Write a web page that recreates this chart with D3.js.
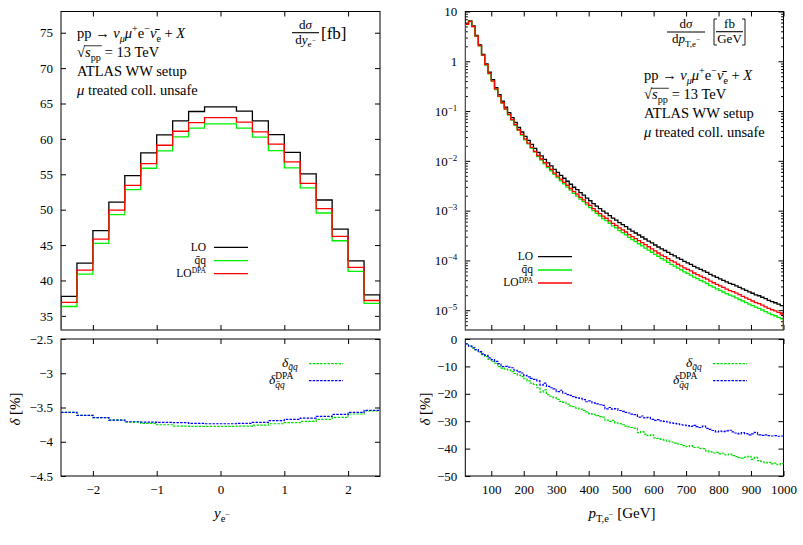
<!DOCTYPE html>
<html lang="en">
<head>
<meta charset="UTF-8">
<script src="https://d3js.org/d3.v7.min.js"></script>
<style>
  body { margin: 0; background: #fff; }
  text { font-family: "Liberation Serif", serif; fill: #000; white-space: pre; }
</style>
</head>
<body>
<div id="chart"></div>
<script>
// ---- data: rapidity of the electron (20 bins, -2.5 .. 2.5)
const yEdges = d3.range(-2.5, 2.5001, 0.25);
const yLO  = [37.74,42.45,47.03,51.08,54.81,58.02,60.57,62.55,63.87,64.53,64.53,63.92,62.55,60.61,58.11,55.05,51.37,47.26,42.78,37.97];
const yQQ  = [36.32,40.90,45.24,49.29,52.83,55.85,58.30,60.28,61.51,62.12,62.12,61.51,60.24,58.35,55.90,53.07,49.53,45.61,41.27,36.75];
const yDPA = [36.89,41.46,45.85,49.95,53.44,56.51,59.10,61.08,62.31,63.02,63.02,62.36,60.99,59.25,56.75,53.73,50.14,46.23,41.84,37.17];
const yDeltaQQ  = [-3.571,-3.615,-3.649,-3.683,-3.713,-3.732,-3.752,-3.771,-3.776,-3.776,-3.776,-3.771,-3.757,-3.737,-3.722,-3.703,-3.674,-3.644,-3.595,-3.551];
const yDeltaDPA = [-3.571,-3.615,-3.649,-3.683,-3.708,-3.713,-3.718,-3.722,-3.732,-3.737,-3.737,-3.732,-3.718,-3.693,-3.674,-3.654,-3.630,-3.600,-3.571,-3.541];

// ---- data: transverse momentum of the electron (98 bins of 10 GeV, 20 .. 1000)
const ptEdges = d3.range(20, 1000.1, 10);
const ptLO = [5.62,6.46,5.13,3.31,2.14,1.38,0.891,0.603,0.427,0.295,0.214,0.158,0.120,0.0933,0.0741,0.0589,0.0468,0.0380,0.0309,0.0257,
  0.0214,0.0178,0.0148,0.0126,0.0107,0.00912,0.00794,0.00676,0.00589,0.00513,0.00447,0.00389,0.00339,0.00295,0.00263,0.00229,0.00204,0.00178,0.00158,0.00138,
  0.00123,0.00110,0.000977,0.000891,0.000794,0.000708,0.000646,0.000575,0.000525,0.000479,0.000427,0.000389,0.000355,0.000324,0.000295,0.000269,0.000245,0.000224,0.000204,0.000186,
  0.000170,0.000158,0.000145,0.000132,0.000123,0.000112,0.000105,9.55e-5,8.91e-5,8.32e-5,7.59e-5,7.08e-5,6.61e-5,6.17e-5,5.75e-5,5.25e-5,4.90e-5,4.57e-5,4.27e-5,3.98e-5,
  3.72e-5,3.47e-5,3.31e-5,3.09e-5,2.88e-5,2.69e-5,2.51e-5,2.34e-5,2.19e-5,2.04e-5,1.95e-5,1.82e-5,1.70e-5,1.58e-5,1.48e-5,1.41e-5,1.32e-5,1.23e-5];
const ptQQ = [5.52,6.30,4.97,3.18,2.04,1.31,0.838,0.562,0.394,0.271,0.195,0.144,0.108,0.0832,0.0656,0.0518,0.0408,0.0330,0.0265,0.0219,
  0.0180,0.0149,0.0122,0.0103,0.00871,0.00735,0.00632,0.00533,0.00460,0.00398,0.00344,0.00297,0.00257,0.00222,0.00196,0.00170,0.00151,0.00130,0.00115,0.000998,
  0.000885,0.000785,0.000695,0.000631,0.000558,0.000495,0.000450,0.000398,0.000361,0.000327,0.000290,0.000262,0.000238,0.000216,0.000195,0.000177,0.000161,0.000146,0.000132,0.000120,
  0.000109,0.000101,9.14e-5,8.30e-5,7.71e-5,6.98e-5,6.49e-5,5.89e-5,5.47e-5,5.08e-5,4.61e-5,4.29e-5,3.98e-5,3.70e-5,3.44e-5,3.12e-5,2.90e-5,2.69e-5,2.50e-5,2.32e-5,
  2.16e-5,2.00e-5,1.91e-5,1.77e-5,1.64e-5,1.53e-5,1.42e-5,1.32e-5,1.23e-5,1.15e-5,1.09e-5,1.01e-5,9.40e-6,8.75e-6,8.13e-6,7.73e-6,7.18e-6,6.68e-6];
const ptDPA = [5.51,6.31,5.00,3.21,2.07,1.33,0.853,0.574,0.405,0.278,0.200,0.147,0.111,0.0857,0.0676,0.0533,0.0421,0.0340,0.0275,0.0227,
  0.0187,0.0155,0.0128,0.0109,0.00919,0.00776,0.00673,0.00569,0.00493,0.00428,0.00370,0.00321,0.00278,0.00241,0.00214,0.00185,0.00164,0.00143,0.00127,0.00110,
  0.000977,0.000869,0.000773,0.000703,0.000625,0.000556,0.000506,0.000450,0.000409,0.000372,0.000331,0.000301,0.000274,0.000249,0.000227,0.000207,0.000188,0.000171,0.000155,0.000141,
  0.000128,0.000119,0.000109,9.89e-5,9.20e-5,8.38e-5,7.80e-5,7.08e-5,6.59e-5,6.14e-5,5.58e-5,5.20e-5,4.84e-5,4.51e-5,4.20e-5,3.82e-5,3.56e-5,3.30e-5,3.07e-5,2.86e-5,
  2.66e-5,2.48e-5,2.36e-5,2.20e-5,2.05e-5,1.90e-5,1.77e-5,1.65e-5,1.53e-5,1.42e-5,1.36e-5,1.26e-5,1.17e-5,1.09e-5,1.02e-5,9.70e-6,9.04e-6,8.39e-6];
const ptDeltaQQ = [-1.8,-2.6,-3.3,-4.0,-4.8,-5.7,-6.4,-7.4,-8.2,-8.8,-10.1,-10.6,-11.0,-11.3,-11.9,-12.6,-13.2,-13.7,-14.5,-15.3,
  -16.1,-16.6,-17.8,-19.4,-18.6,-20.3,-20.9,-21.4,-22.0,-22.8,-23.1,-23.8,-24.4,-24.7,-25.2,-25.6,-26.1,-26.6,-27.2,-27.5,
  -28.0,-28.3,-28.5,-29.6,-30.1,-29.7,-30.6,-30.9,-31.3,-31.8,-32.1,-32.3,-32.5,-34.2,-33.8,-34.7,-35.3,-35.0,-36.1,-36.3,
  -36.6,-36.9,-37.3,-37.6,-38.0,-38.3,-38.5,-38.9,-39.3,-38.9,-39.6,-39.5,-39.9,-40.0,-40.8,-41.2,-41.6,-41.4,-41.9,-41.7,
  -42.3,-42.0,-42.6,-42.9,-43.3,-43.5,-43.1,-42.8,-43.9,-43.2,-44.4,-44.8,-45.2,-45.0,-45.6,-45.3,-45.9,-45.5];
const ptDeltaDPA = [-1.8,-2.6,-3.2,-3.9,-4.6,-5.4,-6.0,-6.9,-7.5,-8.2,-9.0,-10.1,-10.0,-10.3,-10.5,-11.4,-12.0,-12.4,-13.3,-13.8,
  -14.4,-14.7,-15.3,-16.8,-16.1,-17.3,-17.8,-18.2,-19.2,-18.7,-19.8,-20.3,-20.6,-21.0,-21.4,-21.7,-22.1,-22.9,-22.6,-23.3,
  -23.7,-24.0,-24.2,-25.5,-25.0,-25.6,-25.4,-26.1,-26.4,-26.8,-27.0,-27.4,-27.6,-28.5,-28.1,-28.8,-28.6,-29.3,-29.7,-29.4,
  -29.9,-30.1,-30.3,-30.6,-30.8,-31.0,-31.3,-31.4,-31.6,-31.9,-31.5,-32.0,-32.3,-31.8,-32.6,-33.0,-33.4,-33.9,-33.6,-33.8,
  -33.5,-33.3,-33.9,-34.3,-34.6,-34.2,-34.5,-35.0,-34.6,-34.1,-35.0,-35.2,-35.0,-35.3,-35.4,-35.3,-35.5,-35.4];

// ---- ticks
const yTicksX = [-2, -1, 0, 1, 2];
const yTopTicks = [35, 40, 45, 50, 55, 60, 65, 70, 75];
const yBotTicks = [-4.5, -4, -3.5, -3, -2.5];
const ptTicksX = [100, 200, 300, 400, 500, 600, 700, 800, 900, 1000];
const ptTopTicks = [1e-5, 1e-4, 1e-3, 1e-2, 1e-1, 1, 10];
const ptBotTicks = [-50, -40, -30, -20, -10, 0];

const C = { lo: '#000000', qq: '#00ee00', dpa: '#ff0000', dq: '#00dd00', dd: '#0000ff' };

const W = 803, H = 545;
const svg = d3.select('#chart').append('svg').attr('width', W).attr('height', H);

const top0 = 11.5, top1 = 330, bot0 = 339, bot1 = 476;

const xL = d3.scaleLinear([-2.5, 2.5], [61, 380]);
const yLt = d3.scaleLinear([33, 78], [top1, top0]);
const yLb = d3.scaleLinear([-4.5, -2.5], [bot1, bot0]);
const xR = d3.scaleLinear([20, 1000], [465.3, 783.5]);
const yRt = d3.scaleLog([4e-6, 10], [top1, top0]);
const yRb = d3.scaleLinear([-50, 0], [bot1, bot0]);

// rich text: parts {t, i (italic), sub, sup, ss (sup inside sub), back (shift left by previous tspan width)}
function rich(g, x, y, parts, size, anchor) {
  const t = g.append('text').attr('x', x).attr('y', y)
    .attr('font-size', size).attr('text-anchor', anchor || 'start');
  let cur = 0, prev = null;
  parts.forEach(p => {
    let off = 0, sc = 1;
    if (p.sub) { off = size * 0.28; sc = 0.7; }
    if (p.sup) { off = -size * 0.38; sc = 0.7; }
    if (p.ss)  { off = -size * 0.05; sc = 0.55; }
    const s = t.append('tspan').attr('dy', off - cur).text(p.t);
    cur = off;
    if (sc !== 1) s.attr('font-size', size * sc);
    if (p.i) s.attr('font-style', 'italic');
    if (p.back && prev) s.attr('dx', -prev.node().getComputedTextLength());
    prev = s;
  });
  return t;
}

let clipId = 0;
function panel(x, y, xt, yt, opts) {
  const g = svg.append('g');
  const [x0, x1] = x.range();
  const [ya, yb] = y.range();
  const id = 'clip' + (clipId++);
  svg.append('clipPath').attr('id', id).append('rect')
    .attr('x', x0).attr('y', yb).attr('width', x1 - x0).attr('height', ya - yb);

  const ax = (axis, tx, ty) => {
    const a = g.append('g').attr('transform', `translate(${tx},${ty})`).call(axis);
    a.select('.domain').remove();
    a.selectAll('line').attr('stroke', '#000');
    a.selectAll('text').attr('font-size', 13);
    return a;
  };
  ax(d3.axisBottom(x).tickValues(xt).tickSize(-5).tickPadding(9)
      .tickFormat(opts.xLabels ? d3.format('') : ''), 0, ya);
  ax(d3.axisTop(x).tickValues(xt).tickSize(-5).tickFormat(''), 0, yb);
  const left = ax(d3.axisLeft(y).tickValues(yt).tickSize(-5).tickPadding(8)
      .tickFormat(opts.log ? '' : d3.format('')), x0, 0);
  ax(d3.axisRight(y).tickValues(yt).tickSize(-5).tickFormat(''), x1, 0);
  if (opts.log) {
    const minor = [];
    d3.range(-6, 1).forEach(k => d3.range(2, 10).forEach(m => {
      const v = m * Math.pow(10, k);
      if (v > y.domain()[0] && v < y.domain()[1]) minor.push(v);
    }));
    ax(d3.axisLeft(y).tickValues(minor).tickSize(-2.5).tickFormat(''), x0, 0);
    ax(d3.axisRight(y).tickValues(minor).tickSize(-2.5).tickFormat(''), x1, 0);
    left.selectAll('.tick text').each(function (d) {
      const t = d3.select(this).text(null).attr('dy', '0.32em');
      const e = Math.round(Math.log10(d));
      if (e === 0) t.text('1');
      else if (e === 1) t.text('10');
      else {
        t.append('tspan').text('10');
        t.append('tspan').attr('dy', -5).attr('font-size', 9).text('\u2212' + (-e));
      }
    });
  }
  g.append('rect').attr('x', x0).attr('y', yb).attr('width', x1 - x0).attr('height', ya - yb)
    .attr('fill', 'none').attr('stroke', '#000').attr('stroke-width', 1);
  const data = svg.append('g').attr('clip-path', `url(#${id})`);
  return { g, data };
}

// step histogram: optional drops to below the axis at both ends
function hist(g, x, y, edges, vals, color, opts) {
  const pts = vals.map((v, i) => [edges[i], v]);
  pts.push([edges[edges.length - 1], vals[vals.length - 1]]);
  if (opts.drop !== undefined) {
    pts.unshift([edges[0], opts.drop]);
    pts.push([edges[edges.length - 1], opts.drop]);
  }
  const line = d3.line().x(d => x(d[0])).y(d => y(d[1])).curve(d3.curveStepAfter);
  g.append('path').attr('d', line(pts)).attr('fill', 'none').attr('stroke', color)
    .attr('stroke-width', opts.w || 1.3)
    .attr('stroke-dasharray', opts.dash || null);
}

function legendLine(g, x1, x2, y, color, dash) {
  g.append('line').attr('x1', x1).attr('x2', x2).attr('y1', y).attr('y2', y)
    .attr('stroke', color).attr('stroke-width', 1.3).attr('stroke-dasharray', dash || null);
}

function frac(g, cx, yBar, w, num, den, size) {
  rich(g, cx, yBar - 4, num, size, 'middle');
  rich(g, cx, yBar + 11, den, size, 'middle');
  g.append('line').attr('x1', cx - w / 2).attr('x2', cx + w / 2).attr('y1', yBar).attr('y2', yBar)
    .attr('stroke', '#000').attr('stroke-width', 1.1);
}

function processText(g, x, y0, size) {
  const dy = 19;
  rich(g, x, y0, [{t: 'pp \u2192 '}, {t: '\u03bd', i: 1}, {t: '\u03bc', i: 1, sub: 1}, {t: '\u03bc', i: 1},
    {t: '+', sup: 1}, {t: 'e'}, {t: '\u2212', sup: 1}, {t: '\u03bd\u0304', i: 1}, {t: 'e', sub: 1},
    {t: ' + '}, {t: 'X', i: 1}], size);
  // sqrt(s_pp) = 13 TeV
  const y1 = y0 + dy;
  const r = g.append('text').attr('x', x).attr('y', y1).attr('font-size', size).text('\u221a');
  const rw = r.node().getBBox().width;
  const s = rich(g, x + rw, y1, [{t: 's', i: 1}, {t: 'pp', sub: 1}], size);
  const sw = s.node().getBBox().width;
  g.append('line').attr('x1', x + rw - 1).attr('x2', x + rw + sw + 1)
    .attr('y1', y1 - size * 0.74).attr('y2', y1 - size * 0.74).attr('stroke', '#000').attr('stroke-width', 0.8);
  rich(g, x + rw + sw + 4, y1, [{t: '= 13 TeV'}], size);
  rich(g, x, y0 + 2 * dy, [{t: 'ATLAS WW setup'}], size);
  rich(g, x, y0 + 3 * dy, [{t: '\u03bc', i: 1}, {t: ' treated coll. unsafe'}], size);
}

// LO / qq / LO^DPA legend: one text block, one line per entry
function loLegend(g, xt, x1, x2, y0) {
  legendLine(g, x1, x2, y0, C.lo);
  legendLine(g, x1, x2, y0 + 13.3, C.qq);
  legendLine(g, x1, x2, y0 + 26.3, C.dpa);
  const t = g.append('text').attr('font-size', 11.5).attr('text-anchor', 'end');
  t.append('tspan').attr('x', xt).attr('y', y0 + 3.6).text('LO');
  t.append('tspan').attr('x', xt).attr('y', y0 + 16.5).text('q\u0304q');
  t.append('tspan').attr('x', xt).attr('y', y0 + 29.5).text('LO');
  t.append('tspan').attr('dy', -3.5).attr('font-size', 7.5).text('DPA');
}

function deltaLegend(g, xl) {
  legendLine(g, xl, xl + 34, 363.7, C.dq, '2.5,1.2');
  legendLine(g, xl, xl + 34, 380.7, C.dd, '2.5,1.2');
  rich(g, xl - 27, 366.5, [{t: '\u03b4', i: 1}, {t: 'q\u0304q', i: 1, sub: 1}], 13.5);
  rich(g, xl - 40, 384, [{t: '\u03b4', i: 1}, {t: 'DPA', sup: 1}, {t: 'q\u0304q', i: 1, sub: 1, back: 1}], 13.5);
}

// ---------- left top
const pLt = panel(xL, yLt, yTicksX, yTopTicks, {});
hist(pLt.data, xL, yLt, yEdges, yLO, C.lo, {drop: 20});
hist(pLt.data, xL, yLt, yEdges, yQQ, C.qq, {drop: 20});
hist(pLt.data, xL, yLt, yEdges, yDPA, C.dpa, {drop: 20});
processText(pLt.g, 77, 37.5, 14.5);
frac(pLt.g, 305.5, 32.7, 27, [{t: 'd'}, {t: '\u03c3', i: 1}], [{t: 'd'}, {t: 'y', i: 1}, {t: 'e', sub: 1}, {t: '\u2212', ss: 1}], 13);
rich(pLt.g, 321, 38.5, [{t: '[fb]'}], 17);
loLegend(pLt.g, 206, 214, 248, 247.3);

// ---------- left bottom
const pLb = panel(xL, yLb, yTicksX, yBotTicks, {xLabels: true});
hist(pLb.data, xL, yLb, yEdges, yDeltaQQ, C.dq, {dash: '2.5,1.2', w: 1.2});
hist(pLb.data, xL, yLb, yEdges, yDeltaDPA, C.dd, {dash: '2.5,1.2', w: 1.2});
deltaLegend(pLb.g, 309);
rich(svg, 222, 518, [{t: 'y', i: 1}, {t: 'e', sub: 1}, {t: '\u2212', ss: 1}], 15, 'middle');
rich(svg.append('g').attr('transform', 'translate(20,409) rotate(-90)'), 0, 0,
  [{t: '\u03b4', i: 1}, {t: ' [%]'}], 15, 'middle');

// ---------- right top
const pRt = panel(xR, yRt, ptTicksX, ptTopTicks, {log: true});
hist(pRt.data, xR, yRt, ptEdges, ptLO, C.lo, {drop: 1e-8});
hist(pRt.data, xR, yRt, ptEdges, ptQQ, C.qq, {drop: 1e-8});
hist(pRt.data, xR, yRt, ptEdges, ptDPA, C.dpa, {drop: 1e-8});
processText(pRt.g, 644, 80, 14.5);
frac(pRt.g, 686, 32, 38, [{t: 'd'}, {t: '\u03c3', i: 1}],
  [{t: 'd'}, {t: 'p', i: 1}, {t: 'T,e', sub: 1}, {t: '\u2212', ss: 1}], 13);
frac(pRt.g, 729.5, 31.7, 27, [{t: 'fb'}], [{t: 'GeV'}], 13);
[[714, 1], [745, -1]].forEach(([bx, dir]) => {
  pRt.g.append('path').attr('d', `M${bx + 3 * dir},19 H${bx} V45 H${bx + 3 * dir}`)
    .attr('fill', 'none').attr('stroke', '#000').attr('stroke-width', 0.9);
});
loLegend(pRt.g, 533, 538, 572, 256.7);

// ---------- right bottom
const pRb = panel(xR, yRb, ptTicksX, ptBotTicks, {xLabels: true});
hist(pRb.data, xR, yRb, ptEdges, ptDeltaQQ, C.dq, {dash: '2.5,1.2', w: 1.2});
hist(pRb.data, xR, yRb, ptEdges, ptDeltaDPA, C.dd, {dash: '2.5,1.2', w: 1.2});
deltaLegend(pRb.g, 713);
rich(svg, 622, 518, [{t: 'p', i: 1}, {t: 'T,e', sub: 1}, {t: '\u2212', ss: 1}, {t: ' [GeV]'}], 15, 'middle');
rich(svg.append('g').attr('transform', 'translate(430,409) rotate(-90)'), 0, 0,
  [{t: '\u03b4', i: 1}, {t: ' [%]'}], 15, 'middle');
</script>
</body>
</html>
